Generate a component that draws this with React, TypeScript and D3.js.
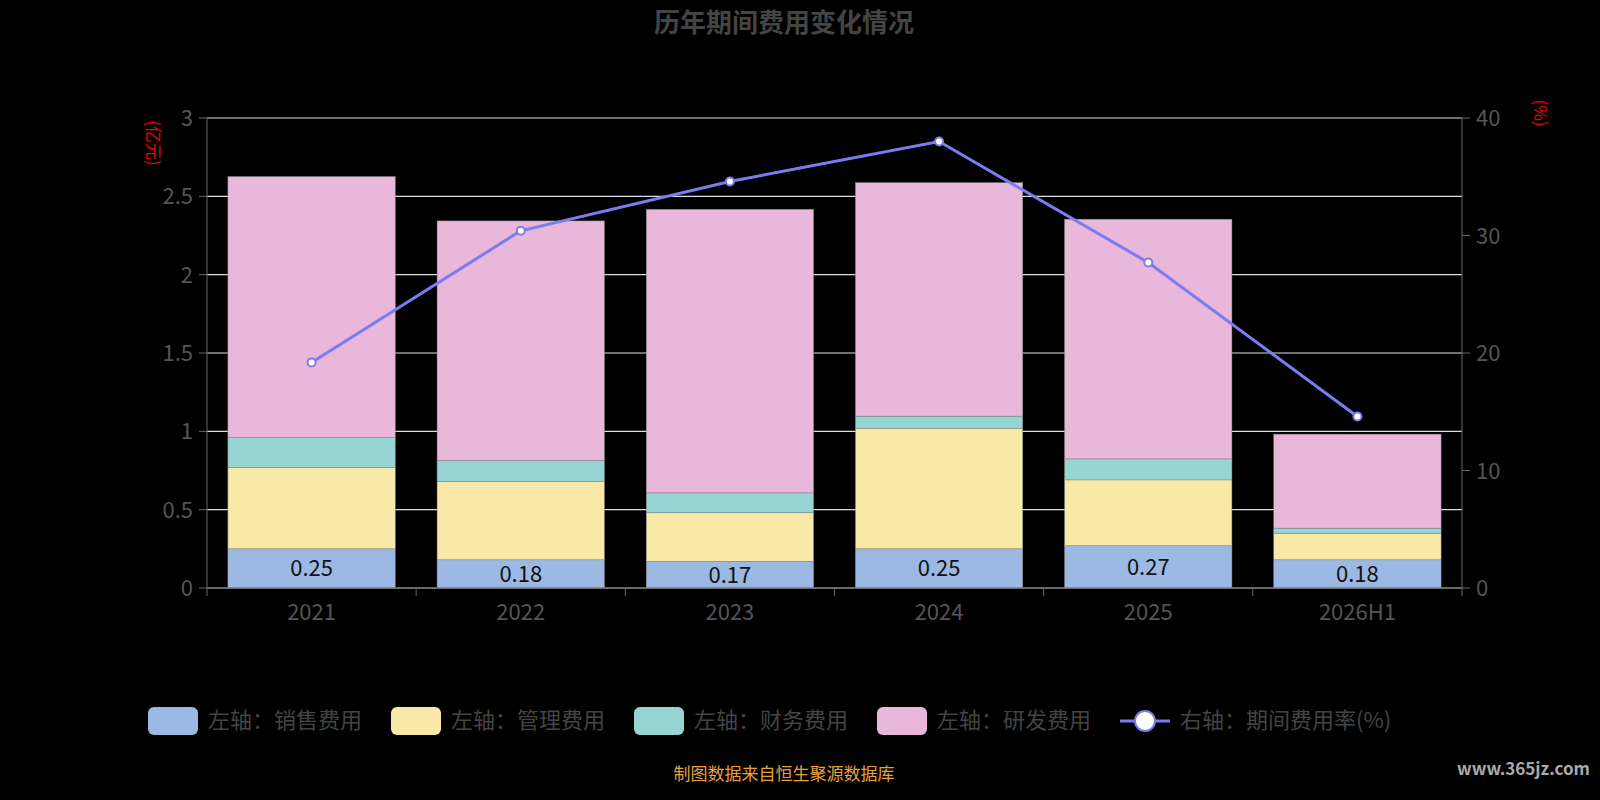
import React from "react";
import * as d3 from "d3";

const categories = ["2021", "2022", "2023", "2024", "2025", "2026H1"];
const sales = [0.25, 0.18, 0.17, 0.25, 0.27, 0.18];
const mgmt = [0.52, 0.5, 0.31, 0.77, 0.42, 0.17];
const finance = [0.19, 0.133, 0.127, 0.077, 0.134, 0.032];
const rnd = [1.666, 1.53, 1.81, 1.49, 1.53, 0.6];
const rate = [19.2, 30.4, 34.6, 38.0, 27.7, 14.6];
const leftTicks = [0, 0.5, 1, 1.5, 2, 2.5, 3];
const rightTicks = [0, 10, 20, 30, 40];
const seriesNames = ["左轴：销售费用", "左轴：管理费用", "左轴：财务费用", "左轴：研发费用"];
const colors = ["#9bb9e3", "#f9e9a9", "#97d5d5", "#e8b7d9"];

export default function App() {
  const W = 1600, H = 800;
  const L = 207, R = 1462, T = 118, B = 588;
  const x = d3.scaleBand().domain(categories).range([L, R]).paddingInner(0.2).paddingOuter(0.1);
  const xb = d3.scaleBand().domain(categories).range([L, R]);
  const y = d3.scaleLinear().domain([0, 3]).range([B, T]);
  const y2 = d3.scaleLinear().domain([0, 40]).range([B, T]);
  const series = [sales, mgmt, finance, rnd];
  const line = d3.line<number>().x((_, i) => xb(categories[i])! + xb.bandwidth() / 2).y((d) => y2(d));
  const font = "'Noto Sans CJK SC', 'Noto Sans', sans-serif";
  const legendX = [148, 391, 634, 877];
  return (
    <svg width={W} height={H} style={{ position: "absolute", left: 0, top: 0, background: "#000" }} fontFamily={font}>
      <rect width={W} height={H} fill="#000" />
      <text x={784} y={32} textAnchor="middle" fontSize={26} fontWeight="bold" fill="#444">历年期间费用变化情况</text>
      {leftTicks.map((t) => (
        <g key={t}>
          <line x1={L} x2={R} y1={y(t)} y2={y(t)} stroke="#ddd" strokeWidth={1.2} />
          <line x1={L - 8} x2={L} y1={y(t)} y2={y(t)} stroke="#666" />
          <text x={L - 14} y={y(t) + 8} textAnchor="end" fontSize={22} fill="#555">{t}</text>
        </g>
      ))}
      {rightTicks.map((t) => (
        <g key={t}>
          <line x1={R} x2={R + 8} y1={y2(t)} y2={y2(t)} stroke="#666" />
          <text x={R + 14} y={y2(t) + 8} fontSize={22} fill="#555">{t}</text>
        </g>
      ))}
      <line x1={L} x2={L} y1={T} y2={B} stroke="#666" />
      <line x1={R} x2={R} y1={T} y2={B} stroke="#666" />
      <text transform={`translate(147,143) rotate(90)`} textAnchor="middle" fontSize={17} fill="#e00">(亿元)</text>
      <text transform={`translate(1534,113) rotate(90)`} textAnchor="middle" fontSize={17} fill="#e00">(%)</text>
      {categories.map((c, i) => {
        let acc = 0;
        return (
          <g key={c}>
            {series.map((s, k) => {
              const y0 = acc, y1 = acc + s[i];
              acc = y1;
              return <rect key={k} x={x(c)} width={x.bandwidth()} y={y(y1)} height={y(y0) - y(y1)} fill={colors[k]} stroke="#888" strokeWidth={0.5} />;
            })}
            <text x={x(c)! + x.bandwidth() / 2} y={y(sales[i] / 2) + 8} textAnchor="middle" fontSize={22} fill="#111">{sales[i]}</text>
            <text x={xb(c)! + xb.bandwidth() / 2} y={620} textAnchor="middle" fontSize={22} fill="#555">{c}</text>
          </g>
        );
      })}
      <line x1={L} x2={R} y1={B} y2={B} stroke="#666" />
      {categories.concat([""]).map((_, i) => (
        <line key={i} x1={L + i * xb.bandwidth()} x2={L + i * xb.bandwidth()} y1={B} y2={B + 8} stroke="#666" />
      ))}
      <path d={line(rate)!} fill="none" stroke="#7b7cf0" strokeWidth={3} />
      {rate.map((r, i) => (
        <circle key={i} cx={xb(categories[i])! + xb.bandwidth() / 2} cy={y2(r)} r={4} fill="#fff" stroke="#7b7cf0" strokeWidth={2} />
      ))}
      {seriesNames.map((n, k) => (
        <g key={n}>
          <rect x={legendX[k]} y={707} width={50} height={28} rx={6} fill={colors[k]} />
          <text x={legendX[k] + 60} y={728} fontSize={22} fill="#444">{n}</text>
        </g>
      ))}
      <line x1={1120} x2={1170} y1={721} y2={721} stroke="#7b7cf0" strokeWidth={3} />
      <circle cx={1145} cy={721} r={10} fill="#fff" stroke="#7b7cf0" strokeWidth={2} />
      <text x={1180} y={728} fontSize={22} fill="#444">右轴：期间费用率(%)</text>
      <text x={784} y={780} textAnchor="middle" fontSize={17} fill="#e8a03c">制图数据来自恒生聚源数据库</text>
      <text x={1590} y={775} textAnchor="end" fontSize={17} fontWeight="bold" fill="#aaa">www.365jz.com</text>
    </svg>
  );
}
